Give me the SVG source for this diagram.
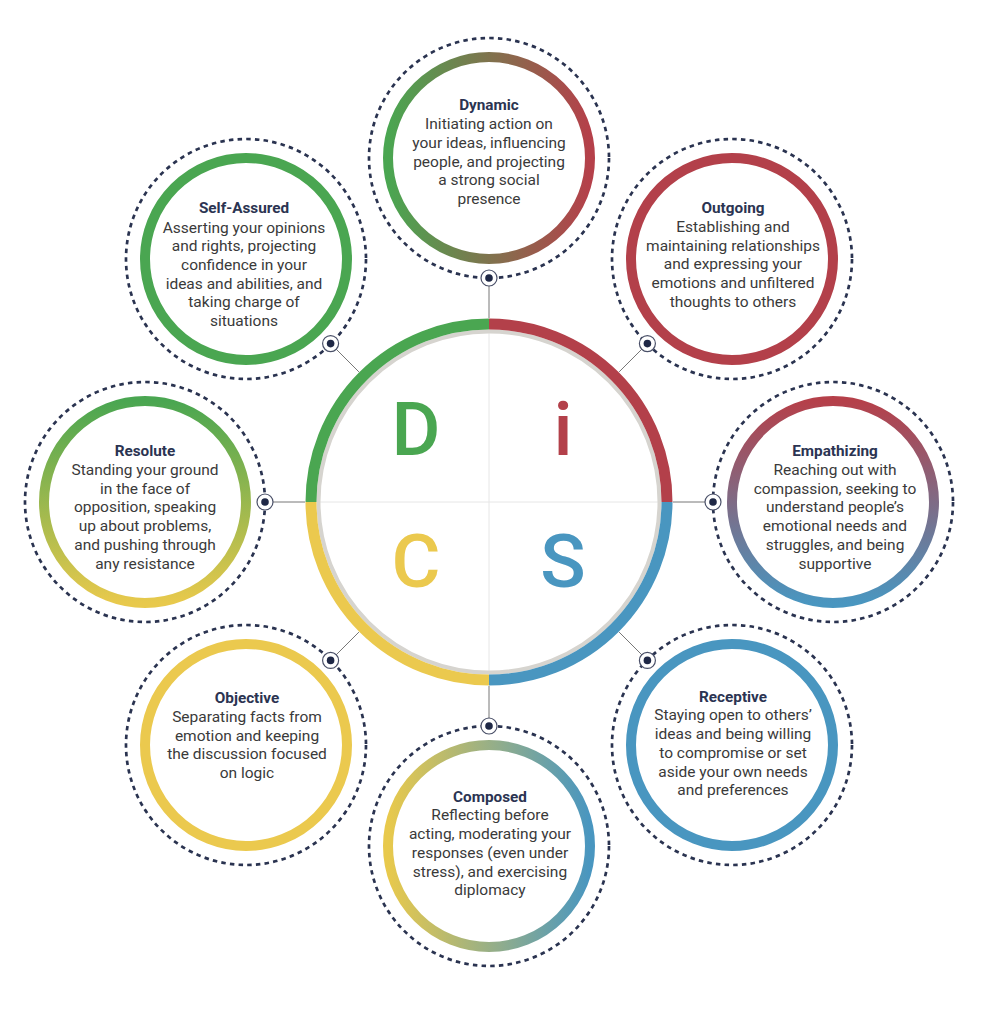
<svg xmlns="http://www.w3.org/2000/svg" width="983" height="1024" viewBox="0 0 983 1024">
<style>
.ring{fill:none;stroke-width:10}
.dots{fill:none;stroke:#2a3350;stroke-width:2.7;stroke-dasharray:4.5 4.2}
.t{font-family:Roboto,"Liberation Sans",sans-serif;font-size:15.3px;font-weight:700;fill:#2b3452;text-anchor:middle}
.b{font-family:Roboto,"Liberation Sans",sans-serif;font-size:15.5px;fill:#3a3a3a;text-anchor:middle}
.mk{fill:#fff;stroke:#4a5068;stroke-width:1.2}
.md{fill:#1f2846}
.conn{stroke:#777;stroke-width:1}
.cross{stroke:#e6e6e6;stroke-width:1}
.big{font-family:Roboto,"Liberation Sans",sans-serif;font-size:75px;font-weight:500;text-anchor:middle}
</style>
<defs>
<linearGradient id="gDyn" x1="0" y1="0" x2="1" y2="0"><stop offset="0" stop-color="#4aa651"/><stop offset="1" stop-color="#b5404a"/></linearGradient>
<linearGradient id="gEmp" x1="0" y1="0" x2="0" y2="1"><stop offset="0" stop-color="#b5404a"/><stop offset="1" stop-color="#4996c0"/></linearGradient>
<linearGradient id="gCom" x1="0" y1="0" x2="1" y2="0"><stop offset="0" stop-color="#e8c94c"/><stop offset="1" stop-color="#4996c0"/></linearGradient>
<linearGradient id="gRes" x1="0" y1="0" x2="0" y2="1"><stop offset="0" stop-color="#4aa651"/><stop offset="1" stop-color="#e8c94c"/></linearGradient>
</defs>
<rect width="983" height="1024" fill="#fff"/>

<g id="connectors">
<line class="cross" x1="319" y1="502" x2="659" y2="502"/>
<line class="cross" x1="489" y1="332" x2="489" y2="672"/>
<line class="conn" x1="489" y1="286" x2="489" y2="318"/>
<line class="conn" x1="489" y1="686" x2="489" y2="718"/>
<line class="conn" x1="273" y1="502" x2="305" y2="502"/>
<line class="conn" x1="673" y1="502" x2="705" y2="502"/>
<line class="conn" x1="641.7" y1="349.3" x2="619.1" y2="371.9"/>
<line class="conn" x1="336.3" y1="349.3" x2="358.9" y2="371.9"/>
<line class="conn" x1="641.7" y1="654.7" x2="619.1" y2="632.1"/>
<line class="conn" x1="336.3" y1="654.7" x2="358.9" y2="632.1"/>
</g>

<g id="center">
<circle cx="489" cy="502" r="170.5" fill="none" stroke="#d6d4cf" stroke-width="4"/>
<path d="M311 502 A178 178 0 0 1 489 324" fill="none" stroke="#4aa651" stroke-width="11"/>
<path d="M489 324 A178 178 0 0 1 667 502" fill="none" stroke="#b3404a" stroke-width="11"/>
<path d="M667 502 A178 178 0 0 1 489 680" fill="none" stroke="#4996c0" stroke-width="11"/>
<path d="M489 680 A178 178 0 0 1 311 502" fill="none" stroke="#ebc94e" stroke-width="11"/>
<text class="big" x="416" y="455" fill="#4aa651">D</text>
<text class="big" x="563" y="455" fill="#b3404a">i</text>
<text class="big" x="416" y="587" fill="#ebc94e">C</text>
<text class="big" x="563" y="587" fill="#4996c0">S</text>
</g>

<g id="dynamic">
<circle class="dots" cx="489" cy="158" r="120"/>
<circle class="ring" cx="489" cy="158" r="101" stroke="url(#gDyn)"/>
<text class="t" x="489" y="110">Dynamic</text>
<text class="b" x="489" y="129.3"><tspan x="489">Initiating action on</tspan><tspan x="489" dy="18.7">your ideas, influencing</tspan><tspan x="489" dy="18.7">people, and projecting</tspan><tspan x="489" dy="18.7">a strong social</tspan><tspan x="489" dy="18.7">presence</tspan></text>
<circle class="mk" cx="489" cy="278" r="8"/><circle class="md" cx="489" cy="278" r="3.8"/>
</g>

<g id="outgoing">
<circle class="dots" cx="732" cy="259" r="120"/>
<circle class="ring" cx="732" cy="259" r="101" stroke="#b3404a"/>
<text class="t" x="733" y="213.3">Outgoing</text>
<text class="b" x="733" y="232"><tspan x="733">Establishing and</tspan><tspan x="733" dy="18.7">maintaining relationships</tspan><tspan x="733" dy="18.7">and expressing your</tspan><tspan x="733" dy="18.7">emotions and unfiltered</tspan><tspan x="733" dy="18.7">thoughts to others</tspan></text>
<circle class="mk" cx="647.4" cy="343.6" r="8"/><circle class="md" cx="647.4" cy="343.6" r="3.8"/>
</g>

<g id="empathizing">
<circle class="dots" cx="833" cy="502" r="120"/>
<circle class="ring" cx="833" cy="502" r="101" stroke="url(#gEmp)"/>
<text class="t" x="835" y="456">Empathizing</text>
<text class="b" x="835" y="475"><tspan x="835">Reaching out with</tspan><tspan x="835" dy="18.7">compassion, seeking to</tspan><tspan x="835" dy="18.7">understand people’s</tspan><tspan x="835" dy="18.7">emotional needs and</tspan><tspan x="835" dy="18.7">struggles, and being</tspan><tspan x="835" dy="18.7">supportive</tspan></text>
<circle class="mk" cx="713" cy="502" r="8"/><circle class="md" cx="713" cy="502" r="3.8"/>
</g>

<g id="receptive">
<circle class="dots" cx="732" cy="745" r="120"/>
<circle class="ring" cx="732" cy="745" r="101" stroke="#4996c0"/>
<text class="t" x="733" y="701.7">Receptive</text>
<text class="b" x="733" y="720.4"><tspan x="733">Staying open to others’</tspan><tspan x="733" dy="18.7">ideas and being willing</tspan><tspan x="733" dy="18.7">to compromise or set</tspan><tspan x="733" dy="18.7">aside your own needs</tspan><tspan x="733" dy="18.7">and preferences</tspan></text>
<circle class="mk" cx="647.4" cy="660.4" r="8"/><circle class="md" cx="647.4" cy="660.4" r="3.8"/>
</g>

<g id="composed">
<circle class="dots" cx="489" cy="846" r="120"/>
<circle class="ring" cx="489" cy="846" r="101" stroke="url(#gCom)"/>
<text class="t" x="490" y="801.7">Composed</text>
<text class="b" x="490" y="820.4"><tspan x="490">Reflecting before</tspan><tspan x="490" dy="18.7">acting, moderating your</tspan><tspan x="490" dy="18.7">responses (even under</tspan><tspan x="490" dy="18.7">stress), and exercising</tspan><tspan x="490" dy="18.7">diplomacy</tspan></text>
<circle class="mk" cx="489" cy="726" r="8"/><circle class="md" cx="489" cy="726" r="3.8"/>
</g>

<g id="objective">
<circle class="dots" cx="246" cy="745" r="120"/>
<circle class="ring" cx="246" cy="745" r="101" stroke="#ebc94e"/>
<text class="t" x="247" y="703.3">Objective</text>
<text class="b" x="247" y="722"><tspan x="247">Separating facts from</tspan><tspan x="247" dy="18.7">emotion and keeping</tspan><tspan x="247" dy="18.7">the discussion focused</tspan><tspan x="247" dy="18.7">on logic</tspan></text>
<circle class="mk" cx="330.6" cy="660.4" r="8"/><circle class="md" cx="330.6" cy="660.4" r="3.8"/>
</g>

<g id="resolute">
<circle class="dots" cx="145" cy="502" r="120"/>
<circle class="ring" cx="145" cy="502" r="101" stroke="url(#gRes)"/>
<text class="t" x="145" y="456">Resolute</text>
<text class="b" x="145" y="475"><tspan x="145">Standing your ground</tspan><tspan x="145" dy="18.7">in the face of</tspan><tspan x="145" dy="18.7">opposition, speaking</tspan><tspan x="145" dy="18.7">up about problems,</tspan><tspan x="145" dy="18.7">and pushing through</tspan><tspan x="145" dy="18.7">any resistance</tspan></text>
<circle class="mk" cx="265" cy="502" r="8"/><circle class="md" cx="265" cy="502" r="3.8"/>
</g>

<g id="self-assured">
<circle class="dots" cx="246" cy="259" r="120"/>
<circle class="ring" cx="246" cy="259" r="101" stroke="#4aa651"/>
<text class="t" x="244" y="213.3">Self-Assured</text>
<text class="b" x="244" y="232.5"><tspan x="244">Asserting your opinions</tspan><tspan x="244" dy="18.7">and rights, projecting</tspan><tspan x="244" dy="18.7">confidence in your</tspan><tspan x="244" dy="18.7">ideas and abilities, and</tspan><tspan x="244" dy="18.7">taking charge of</tspan><tspan x="244" dy="18.7">situations</tspan></text>
<circle class="mk" cx="330.6" cy="343.6" r="8"/><circle class="md" cx="330.6" cy="343.6" r="3.8"/>
</g>
</svg>
